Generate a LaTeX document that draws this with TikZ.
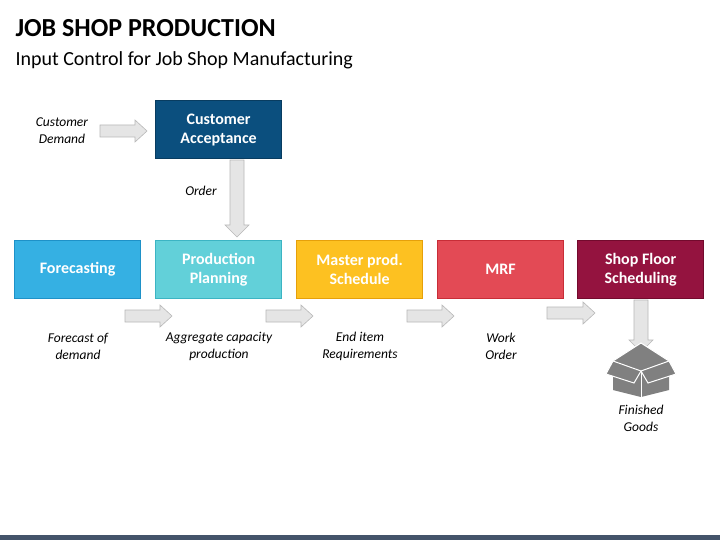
\documentclass[tikz,border=0pt]{standalone}
\usepackage{fontspec}
\setmainfont{Carlito}
\begin{document}
\begin{tikzpicture}[x=1pt,y=-1pt,
  box/.style={draw, line width=1.2pt, minimum width=126pt, minimum height=58pt, anchor=north west, text=white, font=\bfseries\fontsize{16}{19}\selectfont, align=center},
  lbl/.style={font=\itshape\fontsize{13.5}{17}\selectfont, align=center},
  arr/.style={fill=black!10, draw=black!28, line width=0.6pt}]
\useasboundingbox (0,0) rectangle (720,540);
\fill[white] (0,0) rectangle (720,540);
\fill[fill={rgb,255:red,68;green,84;blue,106}] (0,535) rectangle (720,540);
\node[anchor=west, font=\bfseries\fontsize{26}{30}\selectfont] (title) at (12,28) {JOB SHOP PRODUCTION};
\node[anchor=west, font=\fontsize{20}{24}\selectfont] (sub) at (12,60) {Input Control for Job Shop Manufacturing};
% arrows
\newcommand\harr[3]{\path[arr] (#1,#2-6) -- (#3-12,#2-6) -- (#3-12,#2-11) -- (#3,#2) -- (#3-12,#2+11) -- (#3-12,#2+6) -- (#1,#2+6) -- cycle;}
\newcommand\varr[3]{\path[arr] (#1-7,#2) -- (#1-7,#3-12) -- (#1-12,#3-12) -- (#1,#3) -- (#1+12,#3-12) -- (#1+7,#3-12) -- (#1+7,#2) -- cycle;}
\harr{100}{131}{147}
\varr{237}{160}{237}
\harr{125}{316}{172}
\harr{266}{316}{313}
\harr{407}{316}{454}
\harr{547}{313}{595}
% boxes
\node[box, fill={rgb,255:red,11;green,79;blue,126}, draw={rgb,255:red,8;green,60;blue,96}] (ca) at (155,100) {Customer\\Acceptance};
\node[box, fill={rgb,255:red,53;green,176;blue,227}, draw={rgb,255:red,30;green,145;blue,200}] (fc) at (14,240) {Forecasting};
\node[box, fill={rgb,255:red,98;green,208;blue,217}, draw={rgb,255:red,60;green,180;blue,195}] (pp) at (155,240) {Production\\Planning};
\node[box, fill={rgb,255:red,253;green,193;blue,33}, draw={rgb,255:red,230;green,160;blue,10}] (mps) at (296,240) {Master prod.\\Schedule};
\node[box, fill={rgb,255:red,227;green,74;blue,85}, draw={rgb,255:red,200;green,45;blue,55}] (mrf) at (437,240) {MRF};
\node[box, fill={rgb,255:red,148;green,19;blue,63}, draw={rgb,255:red,115;green,10;blue,45}] (sfs) at (577,240) {Shop Floor\\Scheduling};
\varr{641}{300}{352}
% box icon
\begin{scope}[fill=black!50, draw=white, line width=1pt]
\path[fill] (613,362) -- (641,371) -- (669,362) -- (669,390) -- (641,397) -- (613,390) -- cycle;
\draw (641,371) -- (641,397);
\path[fill, draw] (641,352) -- (613,361) -- (606,374) -- (634,383) -- (641,371) -- cycle;
\path[fill, draw] (641,352) -- (669,361) -- (676,374) -- (648,383) -- (641,371) -- cycle;
\path[fill, draw] (613,361) -- (641,343) -- (669,361) -- (641,371) -- cycle;
\end{scope}
% labels
\node[lbl] (l1) at (62,131) {Customer\\Demand};
\node[lbl] (l2) at (201,191) {Order};
\node[lbl] (l3) at (78,346) {Forecast of\\demand};
\node[lbl] (l4) at (219,346) {Aggregate capacity\\production};
\node[lbl] (l5) at (360,346) {End item\\Requirements};
\node[lbl] (l6) at (501,346) {Work\\Order};
\node[lbl] (l7) at (641,418) {Finished\\Goods};
\end{tikzpicture}
\end{document}
